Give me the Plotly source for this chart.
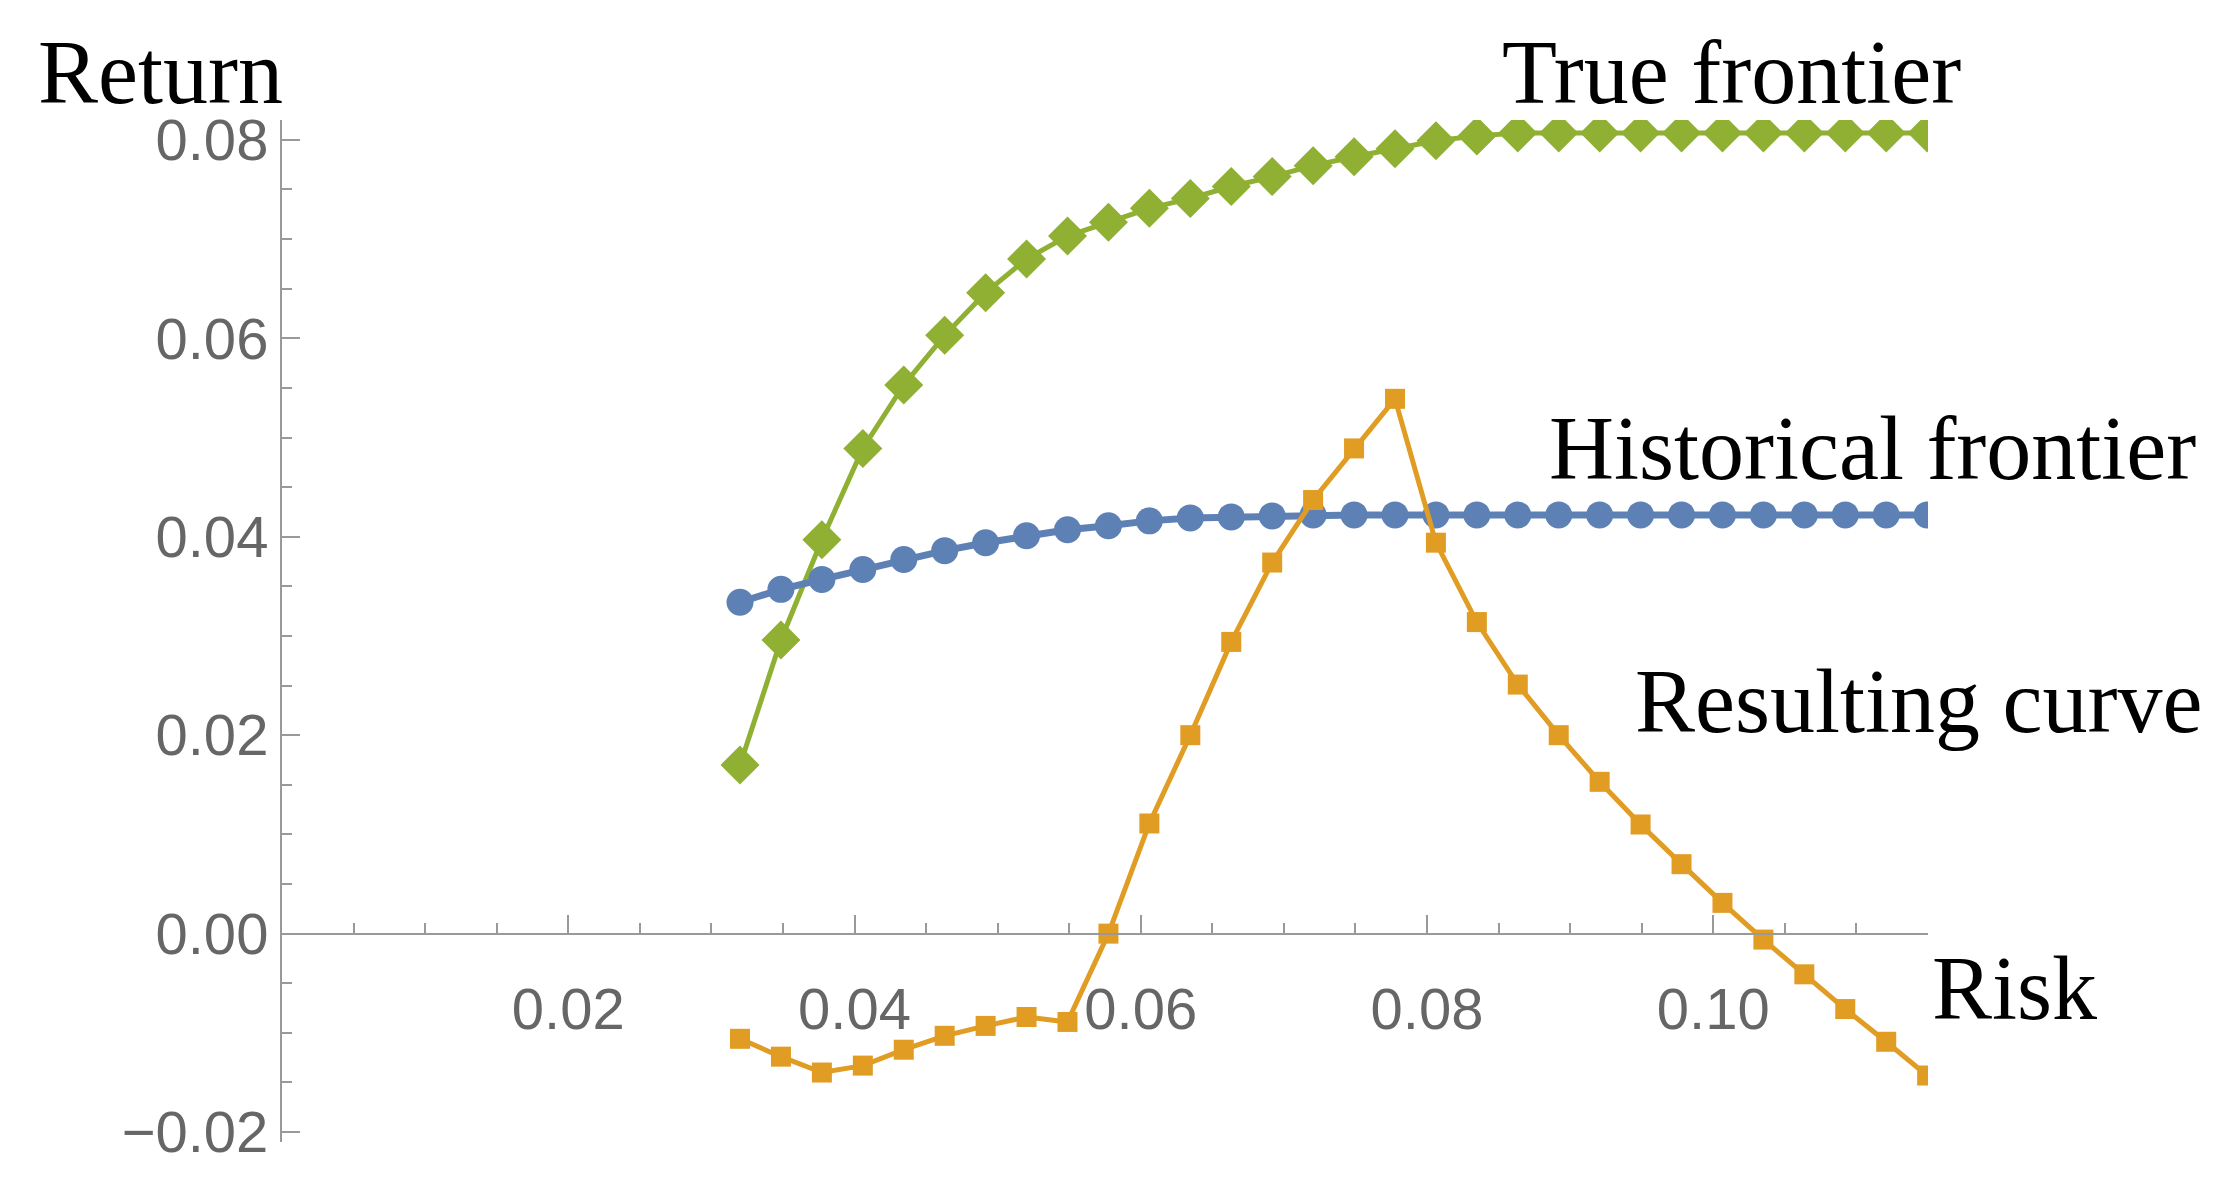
import plotly.graph_objects as go

risk = [0.032 + i*0.00286 for i in range(30)]
true_frontier = [0.017, 0.0296, 0.0397, 0.0489, 0.0553, 0.0603, 0.0646, 0.068, 0.0703, 0.0717,
                 0.0731, 0.0741, 0.0753, 0.0763, 0.0774, 0.0783, 0.0791, 0.0799, 0.0804, 0.0807,
                 0.0807, 0.0807, 0.0807, 0.0807, 0.0807, 0.0807, 0.0807, 0.0807, 0.0807, 0.0807]
historical = [0.0334, 0.0347, 0.0357, 0.0367, 0.0377, 0.0386, 0.0394, 0.0401, 0.0407, 0.0411,
              0.0416, 0.0419, 0.042, 0.0421] + [0.0422]*16
resulting = [-0.0106, -0.0124, -0.014, -0.0133, -0.0117, -0.0103, -0.0093, -0.0084, -0.0089, 0.0,
             0.0111, 0.02, 0.0294, 0.0374, 0.0437, 0.0489, 0.0539, 0.0394, 0.0314, 0.0251,
             0.02, 0.0153, 0.011, 0.007, 0.0031, -0.0006, -0.0041, -0.0076, -0.0109, -0.0143]

W, H = 2217, 1182
L, R, T, B = 274, 297, 112, 48
ymin, ymax = -0.021, 0.082

fig = go.Figure()
fig.add_trace(go.Scatter(x=risk, y=true_frontier, mode="lines+markers",
    line=dict(color="#8FB032", width=5), marker=dict(symbol="diamond", size=30, color="#8FB032")))
fig.add_trace(go.Scatter(x=risk, y=historical, mode="lines+markers",
    line=dict(color="#5E81B5", width=7), marker=dict(symbol="circle", size=27, color="#5E81B5")))
fig.add_trace(go.Scatter(x=risk, y=resulting, mode="lines+markers",
    line=dict(color="#E19C24", width=5), marker=dict(symbol="square", size=20, color="#E19C24")))

tickfont = dict(family="Liberation Sans", size=58, color="#666666")
fig.update_layout(
    width=W, height=H, showlegend=False,
    plot_bgcolor="white", paper_bgcolor="white",
    margin=dict(l=L, r=R, t=T, b=B),
    xaxis=dict(range=[0, 0.115], tickvals=[0.02, 0.04, 0.06, 0.08, 0.10],
               ticktext=["0.02", "0.04", "0.06", "0.08", "0.10"],
               anchor="free", position=(0 - ymin)/(ymax - ymin),
               showgrid=False, zeroline=False, showline=True, linecolor="#999999", linewidth=2,
               ticks="inside", ticklen=18, tickcolor="#999999", tickwidth=2, tickfont=tickfont,
               ticklabelstandoff=25,
               minor=dict(dtick=0.005, ticks="inside", ticklen=10, tickcolor="#999999", tickwidth=1.5)),
    yaxis=dict(range=[ymin, ymax], tickvals=[-0.02, 0, 0.02, 0.04, 0.06, 0.08],
               ticktext=["\u22120.02", "0.00", "0.02", "0.04", "0.06", "0.08"],
               showgrid=False, zeroline=False, showline=True, linecolor="#999999", linewidth=2,
               ticks="inside", ticklen=18, tickcolor="#999999", tickwidth=2, tickfont=tickfont,
               minor=dict(dtick=0.005, ticks="inside", ticklen=10, tickcolor="#999999", tickwidth=1.5)),
)

PW, PH = W - L - R, H - T - B
def px(x): return (x - L) / PW
def py(y): return (H - B - y) / PH
lab = dict(family="Liberation Serif", size=90, color="black")
def ann(text, x, y, xanchor):
    fig.add_annotation(text=text, x=px(x), y=py(y), xref="paper", yref="paper",
                       xanchor=xanchor, yanchor="middle", showarrow=False, font=lab)
ann("Return", 28, 64, "left")
ann("True frontier", 1955, 64, "right")
ann("Historical frontier", 2190, 440, "right")
ann("Resulting curve", 2196, 693, "right")
ann("Risk", 1922, 980, "left")

fig.write_html("out.html")
